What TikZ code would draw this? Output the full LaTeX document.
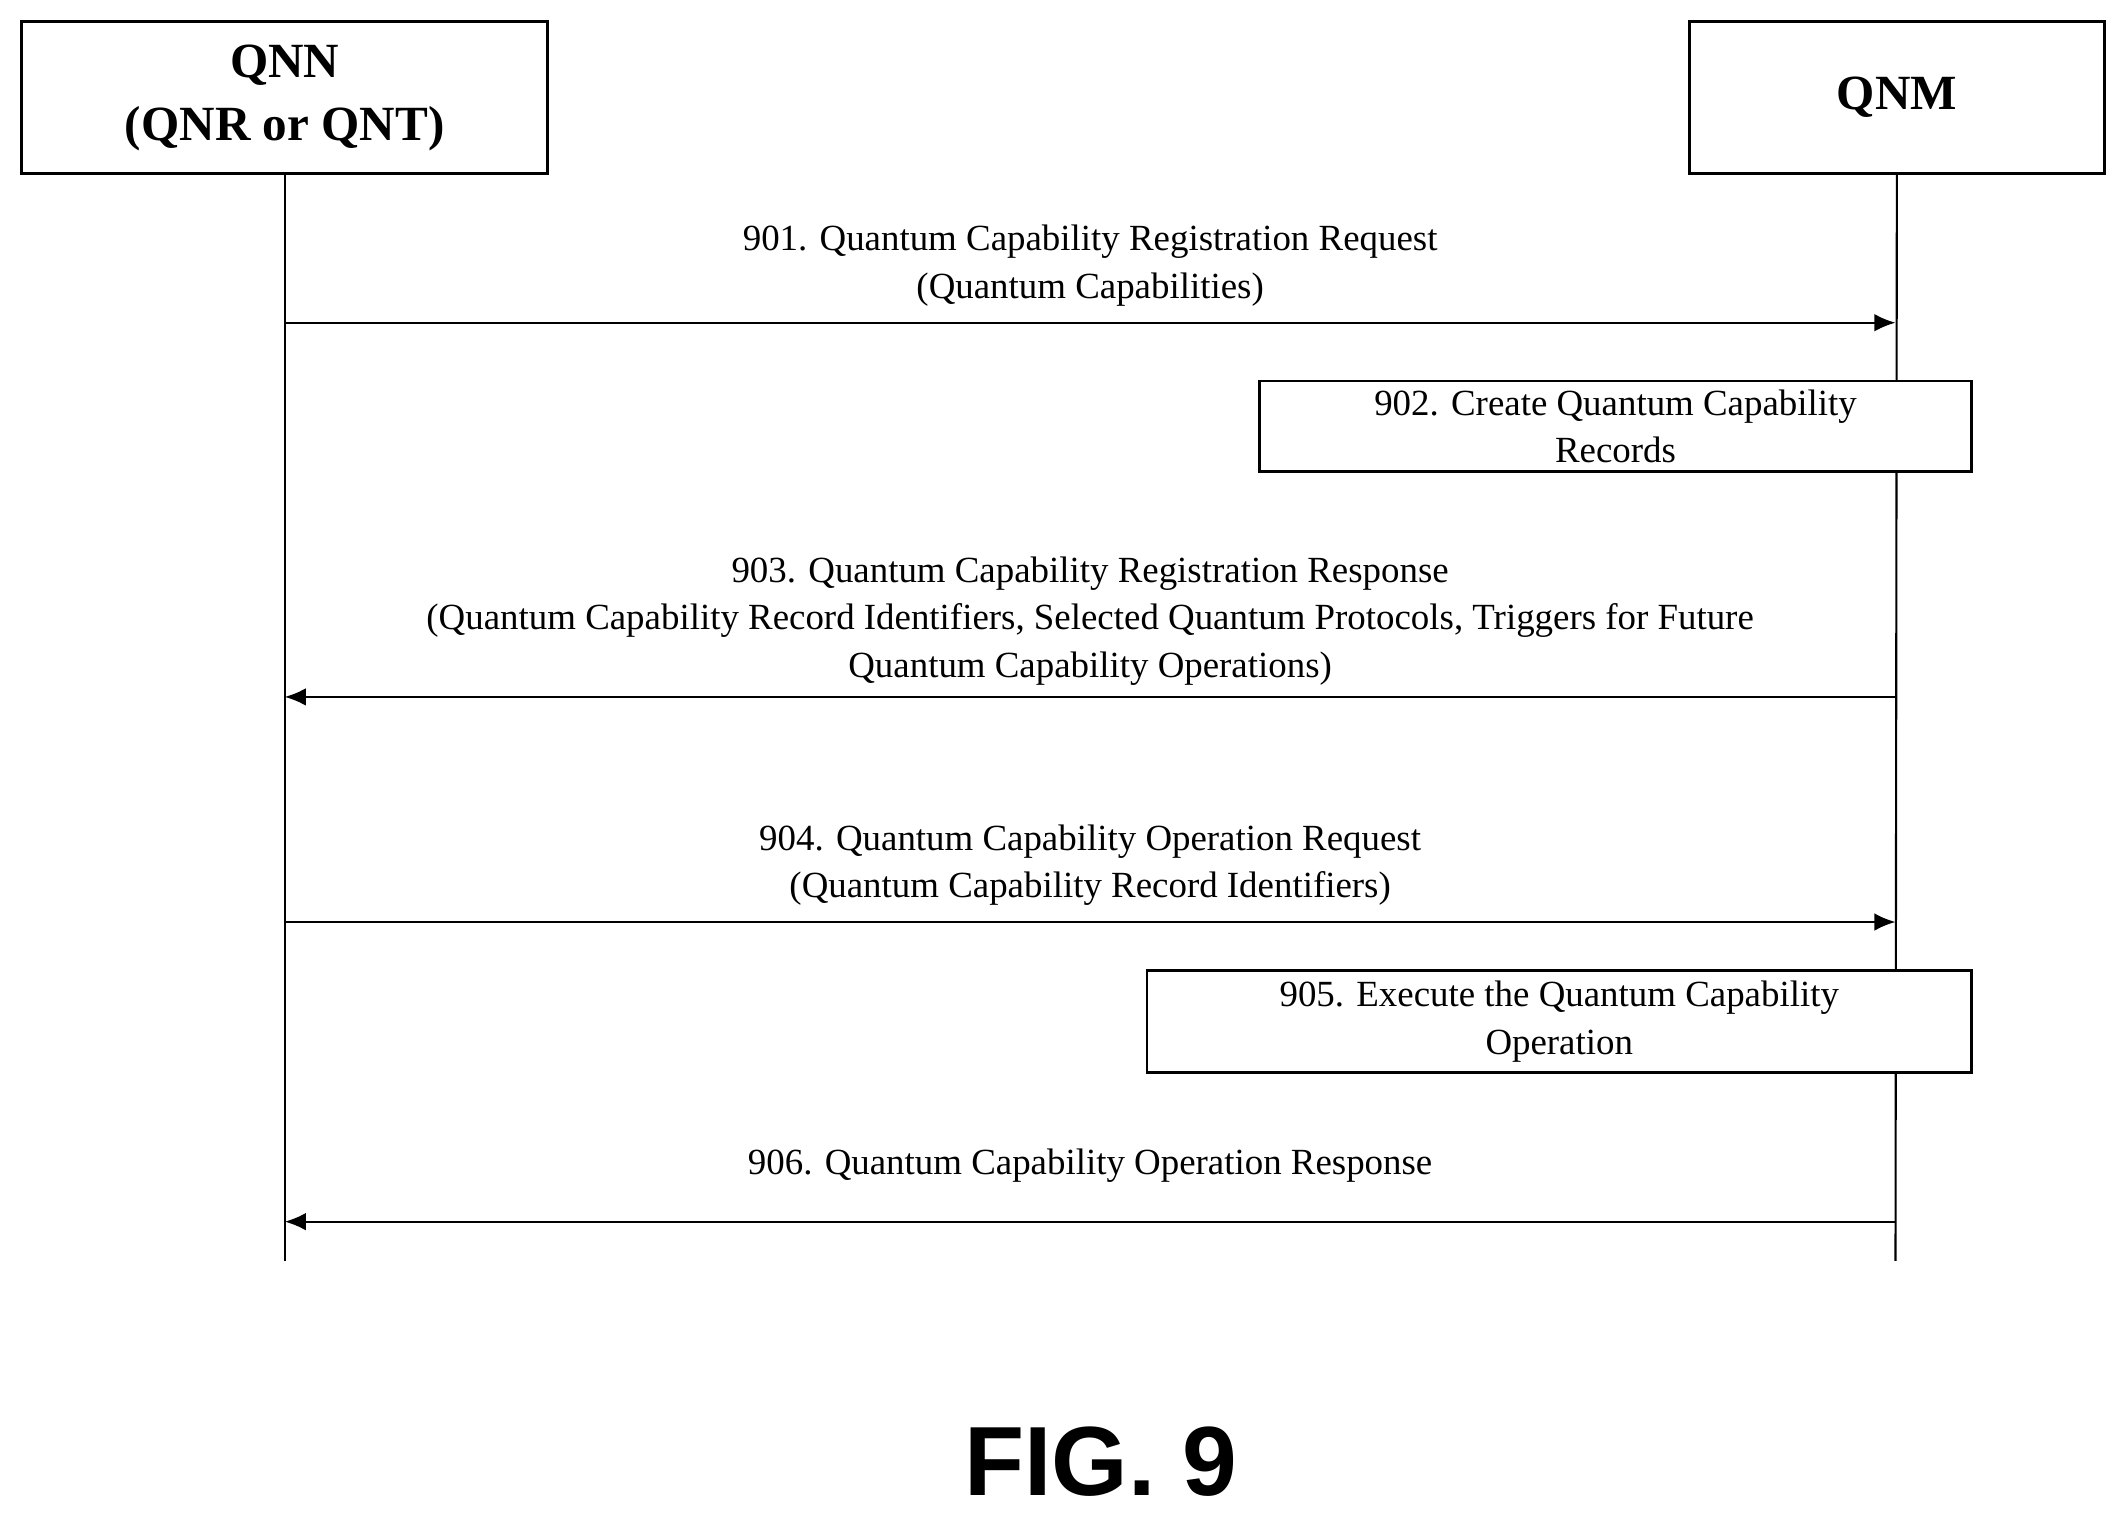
\documentclass[tikz,border=0pt]{standalone}
\usepackage{fontspec}
\setmainfont{Liberation Serif}
\setsansfont{Liberation Sans}
\usetikzlibrary{arrows.meta}
\tikzstyle{ent}=[draw=black,thick,inner sep=0pt,font=\fontsize{14}{18}\selectfont\bfseries,align=center]
\tikzstyle{act}=[draw=black,thick,inner sep=0pt,font=\fontsize{10.5}{13.5}\selectfont,align=center]
\tikzstyle{lbl}=[font=\fontsize{10.5}{13.5}\selectfont,align=center,inner sep=0pt]
\tikzstyle{msg}=[-{Latex[length=6pt,width=5pt]},semithick]

\begin{document}
\begin{tikzpicture}[x=0.01356cm,y=-0.01356cm]
\useasboundingbox (0,0) rectangle (1568,1120);
\node[ent,minimum width=388*0.01356cm,minimum height=112*0.01356cm] (qnn) at (210,72) {QNN\\(QNR or QNT)};
\node[ent,minimum width=306*0.01356cm,minimum height=112*0.01356cm] (qnm) at (1399,72) {QNM};
\coordinate (qnnend) at (210,930); \coordinate (qnmend) at (1398,930);
\draw[semithick] (qnn.south) -- (qnnend); \draw[semithick] (qnm.south) -- (qnmend);
\coordinate (a1) at (210,238); \coordinate (b1) at (1398,238);
\draw[msg] (a1) -- (b1);
\node[lbl] (l901) at (804,196) {901. Quantum Capability Registration Request\\(Quantum Capabilities)};
\node[act,fill=white,minimum width=525*0.01356cm,minimum height=67*0.01356cm] (s902) at (1191.5,314.5) {902. Create Quantum Capability\\Records};
\coordinate (a3) at (1398,514); \coordinate (b3) at (210,514);
\draw[msg] (a3) -- (b3);
\node[lbl] (l903) at (804,458) {903. Quantum Capability Registration Response\\(Quantum Capability Record Identifiers, Selected Quantum Protocols, Triggers for Future\\Quantum Capability Operations)};
\coordinate (a4) at (210,680); \coordinate (b4) at (1398,680);
\draw[msg] (a4) -- (b4);
\node[lbl] (l904) at (804,638) {904. Quantum Capability Operation Request\\(Quantum Capability Record Identifiers)};
\node[act,fill=white,minimum width=608*0.01356cm,minimum height=75*0.01356cm] (s905) at (1150,753.5) {905. Execute the Quantum Capability\\Operation};
\coordinate (a6) at (1398,901); \coordinate (b6) at (210,901);
\draw[msg] (a6) -- (b6);
\node[lbl] (l906) at (804,860) {906. Quantum Capability Operation Response};
\node[font=\sffamily\bfseries\fontsize{28}{32}\selectfont] (fig) at (812,1078) {FIG. 9};
\end{tikzpicture}
\end{document}
